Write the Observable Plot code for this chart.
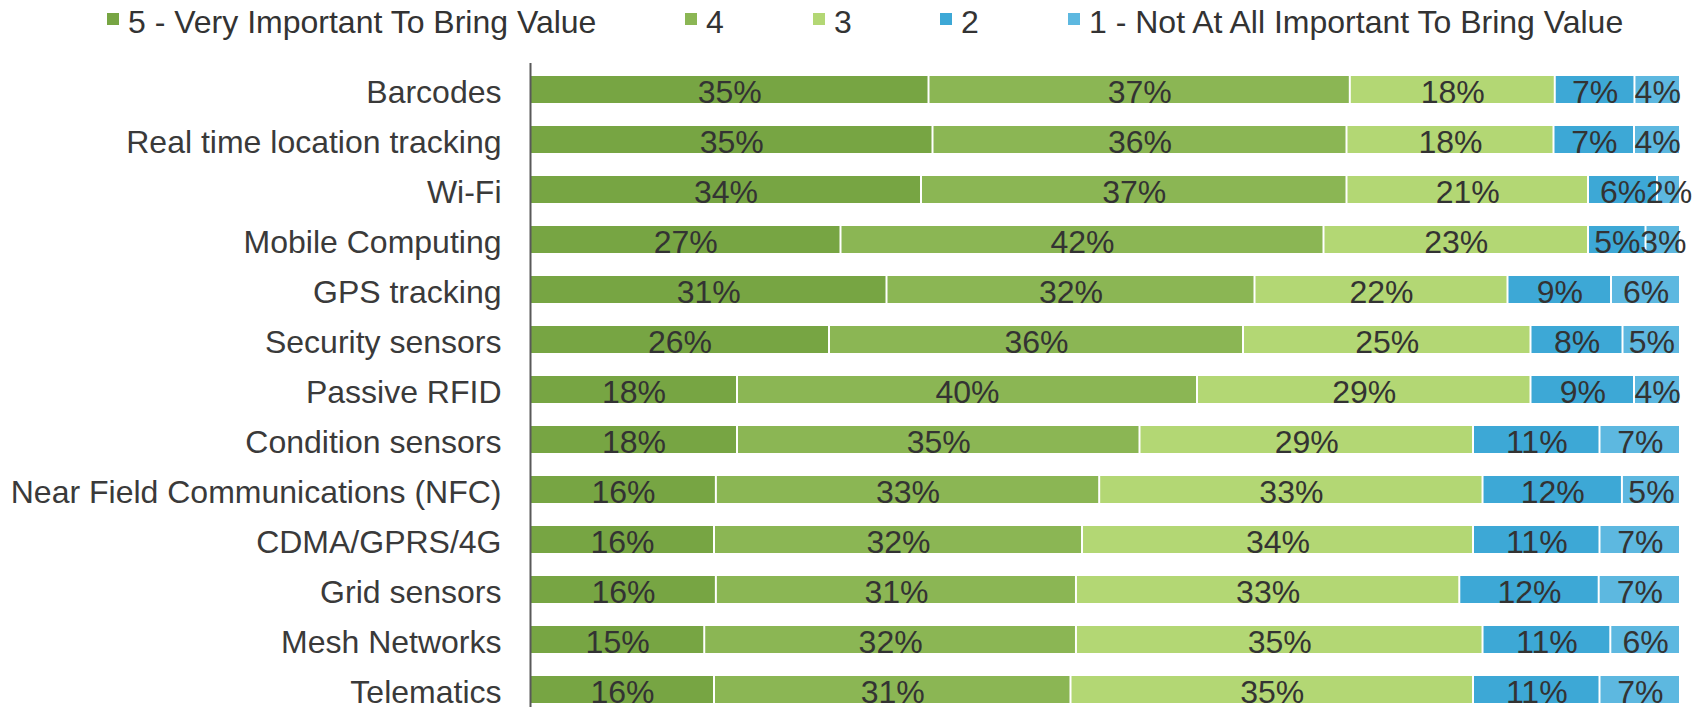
<!DOCTYPE html>
<html>
<head>
<meta charset="utf-8">
<script src="https://cdn.jsdelivr.net/npm/d3@7"></script>
<script src="https://cdn.jsdelivr.net/npm/@observablehq/plot@0.6"></script>
<style>
  body { margin: 0; background: #fff; overflow: hidden; }
  #chart svg { display: block; }
</style>
</head>
<body>
<div id="chart"></div>
<script>
const items = [
  "Barcodes", "Real time location tracking", "Wi-Fi", "Mobile Computing",
  "GPS tracking", "Security sensors", "Passive RFID", "Condition sensors",
  "Near Field Communications (NFC)", "CDMA/GPRS/4G", "Grid sensors",
  "Mesh Networks", "Telematics"
];
const levels = [
  "5 - Very Important To Bring Value", "4", "3", "2",
  "1 - Not At All Important To Bring Value"
];
const colors = ["#77a543", "#8bb654", "#b3d774", "#3da8d6", "#5db8e0"];

const v5 = [35, 35, 34, 27, 31, 26, 18, 18, 16, 16, 16, 15, 16];
const v4 = [37, 36, 37, 42, 32, 36, 40, 35, 33, 32, 31, 32, 31];
const v3 = [18, 18, 21, 23, 22, 25, 29, 29, 33, 34, 33, 35, 35];
const v2 = [7, 7, 6, 5, 9, 8, 9, 11, 12, 11, 12, 11, 11];
const v1 = [4, 4, 2, 3, 6, 5, 4, 7, 5, 7, 7, 6, 7];

const series = [v5, v4, v3, v2, v1];
const data = items.flatMap((item, i) =>
  levels.map((level, j) => ({ item, level, value: series[j][i] }))
);

const W = 1704, LH = 50, FS = 32;
const FONT = "'Liberation Sans', Arial, Helvetica, sans-serif";

// Legend (above the chart)
const legendX = [107, 685, 813, 940, 1068];
const leg = d3.create("svg")
  .attr("width", W).attr("height", LH)
  .style("display", "block")
  .style("font-family", FONT);
levels.forEach((l, j) => {
  const g = leg.append("g").attr("transform", `translate(${legendX[j]},0)`);
  g.append("rect").attr("x", 0).attr("y", 13).attr("width", 12).attr("height", 12).attr("fill", colors[j]);
  g.append("text").attr("x", 21).attr("y", 33).attr("font-size", FS).attr("fill", "#333").text(l);
});
document.getElementById("chart").append(leg.node());

const chart = Plot.plot({
  width: W,
  height: 707 - LH,
  marginLeft: 530,
  marginRight: 24,
  marginTop: 13,
  marginBottom: 0,
  style: { fontFamily: FONT, fontSize: FS + "px", background: "#fff", overflow: "visible" },
  x: { axis: null, domain: [0, 1] },
  y: { axis: null, domain: items, range: [3, 677], padding: 0.451 },
  color: { domain: levels, range: colors },
  marks: [
    Plot.barX(data, Plot.stackX({
      x: "value", y: "item", fill: "level", offset: "normalize",
      insetLeft: 1, insetRight: 1
    })),
    Plot.text(data, Plot.stackX({
      x: "value", y: "item", z: "level", offset: "normalize",
      text: d => d.value + "%", fill: "#333", fontSize: FS, dy: 3
    })),
    Plot.text(items, {
      y: d => d, text: d => d, frameAnchor: "left", textAnchor: "end",
      dx: -29, dy: 3, fill: "#3a3a3a", fontSize: FS
    }),
    Plot.ruleX([0], { stroke: "#595959", strokeWidth: 2 })
  ]
});
document.getElementById("chart").append(chart);
</script>
</body>
</html>
